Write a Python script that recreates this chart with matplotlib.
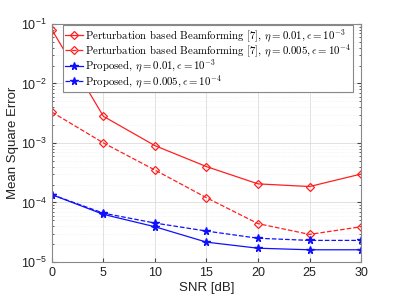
import matplotlib
matplotlib.use("Agg")
import matplotlib.pyplot as plt
from matplotlib.ticker import LogLocator, NullFormatter

snr = [0, 5, 10, 15, 20, 25, 30]
pert_001 = [8.0e-2, 2.8e-3, 9.0e-4, 4.0e-4, 2.05e-4, 1.85e-4, 3.0e-4]
pert_0005 = [3.3e-3, 1.0e-3, 3.5e-4, 1.2e-4, 4.4e-5, 2.9e-5, 3.9e-5]
prop_001 = [1.35e-4, 6.3e-5, 3.9e-5, 2.15e-5, 1.7e-5, 1.6e-5, 1.6e-5]
prop_0005 = [1.35e-4, 6.6e-5, 4.5e-5, 3.3e-5, 2.5e-5, 2.3e-5, 2.3e-5]

labels = [
    r"Perturbation based Beamforming [7], $\eta = 0.01, \epsilon = 10^{-3}$",
    r"Perturbation based Beamforming [7], $\eta = 0.005, \epsilon = 10^{-4}$",
    r"Proposed, $\eta = 0.01, \epsilon = 10^{-3}$",
    r"Proposed, $\eta = 0.005, \epsilon = 10^{-4}$",
]

plt.rcParams['mathtext.fontset'] = 'cm'
plt.rcParams['font.family'] = ['Liberation Sans', 'DejaVu Sans']

fig = plt.figure(figsize=(3.99, 2.99), dpi=100)
ax = fig.add_axes([0.130, 0.124, 0.775, 0.796])

red = '#ff2020'
blue = '#1010ff'
ax.plot(snr, pert_001, '-', color=red, lw=0.9, marker='D', ms=4.5, mfc='none', mec=red, mew=0.9, label=labels[0])
ax.plot(snr, pert_0005, '--', color=red, lw=0.9, marker='D', ms=4.5, mfc='none', mec=red, mew=0.9, label=labels[1])
ax.plot(snr, prop_001, '-', color=blue, lw=0.9, marker='*', ms=5.5, mfc=blue, mec=blue, label=labels[2])
ax.plot(snr, prop_0005, '--', color=blue, lw=0.9, marker='*', ms=5.5, mfc=blue, mec=blue, label=labels[3])

ax.set_yscale('log')
ax.set_xlim(0, 30)
ax.set_ylim(1e-5, 1e-1)
ax.set_xticks(snr)
ax.yaxis.set_major_locator(LogLocator(base=10, numticks=10))
ax.yaxis.set_minor_locator(LogLocator(base=10, subs=range(2, 10), numticks=100))
ax.yaxis.set_minor_formatter(NullFormatter())

ax.grid(True, which='major', color='#dcdcdc', lw=0.6)
ax.grid(True, which='minor', color='#ececec', lw=0.5, ls=':')
ax.tick_params(which='both', direction='in', top=True, right=True, colors='#444444', labelcolor='#222222', labelsize=9)
ax.tick_params(which='major', length=3)
ax.tick_params(which='minor', length=1.5)
for s in ax.spines.values():
    s.set_color('#888888')
    s.set_linewidth(0.8)

ax.set_xlabel('SNR [dB]', fontsize=9.5, color='#222222', labelpad=2)
ax.set_ylabel('Mean Square Error', fontsize=9.5, color='#222222', labelpad=2)

leg = ax.legend(loc='upper left', bbox_to_anchor=(0.036, 0.997), prop={'family': 'cmr10', 'size': 7.8},
                frameon=True, fancybox=False,
                edgecolor='#888888', framealpha=1, handlelength=1.6, handletextpad=0.25,
                borderpad=0.2, labelspacing=-0.15, borderaxespad=0.0)
leg.get_frame().set_linewidth(0.8)

fig.savefig('out.png', dpi=100)
